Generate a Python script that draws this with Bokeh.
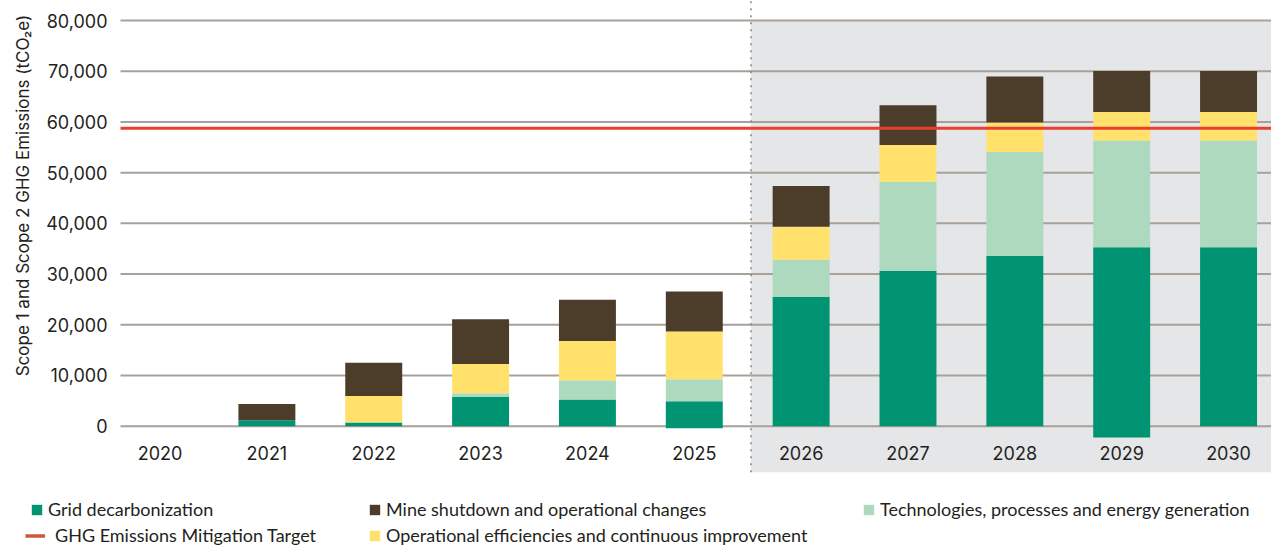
import numpy as np
from bokeh.plotting import figure
from bokeh.models import (ColumnDataSource, Range1d, FixedTicker, NumeralTickFormatter,
                          BoxAnnotation, Legend, LegendItem, Label)
from bokeh.embed import file_html
from bokeh.resources import INLINE

# ---------------- data ----------------
years = [2020, 2021, 2022, 2023, 2024, 2025, 2026, 2027, 2028, 2029, 2030]
grid_below_zero = [0, 0, 0, 0, 0, -390, 0, 0, 0, -2230, 0]
grid_decarbonization = [0, 1180, 720, 5770, 5250, 4920, 25540, 30660, 33610, 35310, 35310]
technologies = [0, 0, 0, 720, 3800, 4330, 7280, 17570, 20470, 21010, 21010]
operational_eff = [0, 0, 5250, 5770, 7740, 9440, 6490, 7230, 5790, 5650, 5650]
mine_shutdown = [0, 3210, 6550, 8850, 8130, 7870, 8070, 7830, 9080, 8100, 8100]
mitigation_target = 58750
y_ticks = [0, 10000, 20000, 30000, 40000, 50000, 60000, 70000, 80000]
forecast_start = 2025.53

labels = {
    "grid": "Grid decarbonization",
    "mine": "Mine shutdown and operational changes",
    "tech": "Technologies, processes and energy generation",
    "target": "GHG Emissions Mitigation Target",
    "ops": "Operational efficiencies and continuous improvement",
}
y_title = "Scope 1 and Scope 2 GHG Emissions (tCO\u2082e)"

# ---------------- layout constants ----------------
X_AXIS_AT = 2019.63      # where the value axis sits
X_LO, X_HI = 2018.507, 2030.402
Y_LO, Y_HI = -24120, 83950
SHADE_BOTTOM = -9070

# ---------------- stacking ----------------
g = np.array(grid_decarbonization, dtype=float)
t = np.array(technologies, dtype=float)
o = np.array(operational_eff, dtype=float)
m = np.array(mine_shutdown, dtype=float)
src = ColumnDataSource(dict(
    x=years,
    g0=grid_below_zero, g1=g,
    t0=g, t1=g + t,
    o0=g + t, o1=g + t + o,
    m0=g + t + o, m1=g + t + o + m,
))

GREEN = "#009473"
LIGHT = "#ADD9BF"
YELLOW = "#FFE16B"
BROWN = "#4B3D2A"
RED = "#E8402F"
RUST = "#CB5A34"
TXT = "#231F20"
GRIDC = "#A9A199"

p = figure(width=1271, height=548,
           x_range=Range1d(X_LO, X_HI), y_range=Range1d(Y_LO, Y_HI),
           output_backend="svg", toolbar_location=None,
           min_border=0, min_border_left=0, min_border_right=0,
           min_border_top=0, min_border_bottom=0)
p.outline_line_color = None
p.background_fill_color = "white"
p.border_fill_color = "white"
p.xgrid.visible = False
p.ygrid.visible = False

shade = BoxAnnotation(left=forecast_start, top=80000, bottom=SHADE_BOTTOM,
                      fill_color="#E5E6E8", fill_alpha=1, line_color=None, level="image")
p.add_layout(shade)

# horizontal gridlines at the value ticks
p.segment(x0=X_AXIS_AT, x1=X_HI, y0=y_ticks, y1=y_ticks, line_color=GRIDC, line_width=2)
# forecast divider
p.segment(x0=[forecast_start], x1=[forecast_start], y0=[SHADE_BOTTOM], y1=[Y_HI],
          line_color="#8C8279", line_width=1.5, line_dash="2 5")

W = 0.533
r_grid = p.vbar(x="x", width=W, bottom="g0", top="g1", source=src, fill_color=GREEN, line_color=None)
r_tech = p.vbar(x="x", width=W, bottom="t0", top="t1", source=src, fill_color=LIGHT, line_color=None)
r_ops = p.vbar(x="x", width=W, bottom="o0", top="o1", source=src, fill_color=YELLOW, line_color=None)
r_mine = p.vbar(x="x", width=W, bottom="m0", top="m1", source=src, fill_color=BROWN, line_color=None)
r_target_leg = p.line(x=[np.nan], y=[np.nan], line_color=RUST, line_width=3.5)

# mitigation target line
p.segment(x0=[X_AXIS_AT], x1=[X_HI], y0=[mitigation_target], y1=[mitigation_target],
          line_color=RED, line_width=3)

# y axis (drawn inside the frame at X_AXIS_AT)
p.yaxis.fixed_location = X_AXIS_AT
p.yaxis.ticker = FixedTicker(ticks=y_ticks)
p.yaxis.formatter = NumeralTickFormatter(format="0,0")
p.yaxis.axis_line_color = None
p.yaxis.major_tick_line_color = None
p.yaxis.minor_tick_line_color = None
p.yaxis.major_label_standoff = 7
p.yaxis.major_label_text_font = "Inter"
p.yaxis.major_label_text_font_size = "18px"
p.yaxis.major_label_text_color = TXT

# y title
p.add_layout(Label(x=X_LO + 22 / 106.85, y=45490, text=y_title, angle=np.pi / 2,
                   text_align="center", text_baseline="middle",
                   text_font="Inter", text_font_size="17px", text_color=TXT))

# x axis at y = 0
p.xaxis.fixed_location = 0
p.xaxis.ticker = FixedTicker(ticks=years)
p.xaxis.axis_line_color = None
p.xaxis.major_tick_line_color = None
p.xaxis.minor_tick_line_color = None
p.xaxis.major_label_standoff = 14
p.xaxis.major_label_text_font = "Inter"
p.xaxis.major_label_text_font_size = "18px"
p.xaxis.major_label_text_color = TXT


def add_leg(label, rend, x, y, gw=13, gh=13, standoff=5):
    leg = Legend(items=[LegendItem(label=label, renderers=[rend])], location=(x, y),
                 orientation="vertical", padding=0, margin=0, spacing=0,
                 glyph_width=gw, glyph_height=gh, label_standoff=standoff, label_height=22,
                 label_text_font="Lato", label_text_font_size="18px", label_text_color=TXT,
                 background_fill_alpha=0, border_line_color=None)
    p.add_layout(leg, "center")


add_leg(labels["grid"], r_grid, 30, 28)
add_leg(labels["target"], r_target_leg, 25, 2, gw=20, standoff=10)
add_leg(labels["mine"], r_mine, 368, 28)
add_leg(labels["ops"], r_ops, 368, 2)
add_leg(labels["tech"], r_tech, 862, 28)

open("out.html", "w").write(file_html(p, INLINE))
